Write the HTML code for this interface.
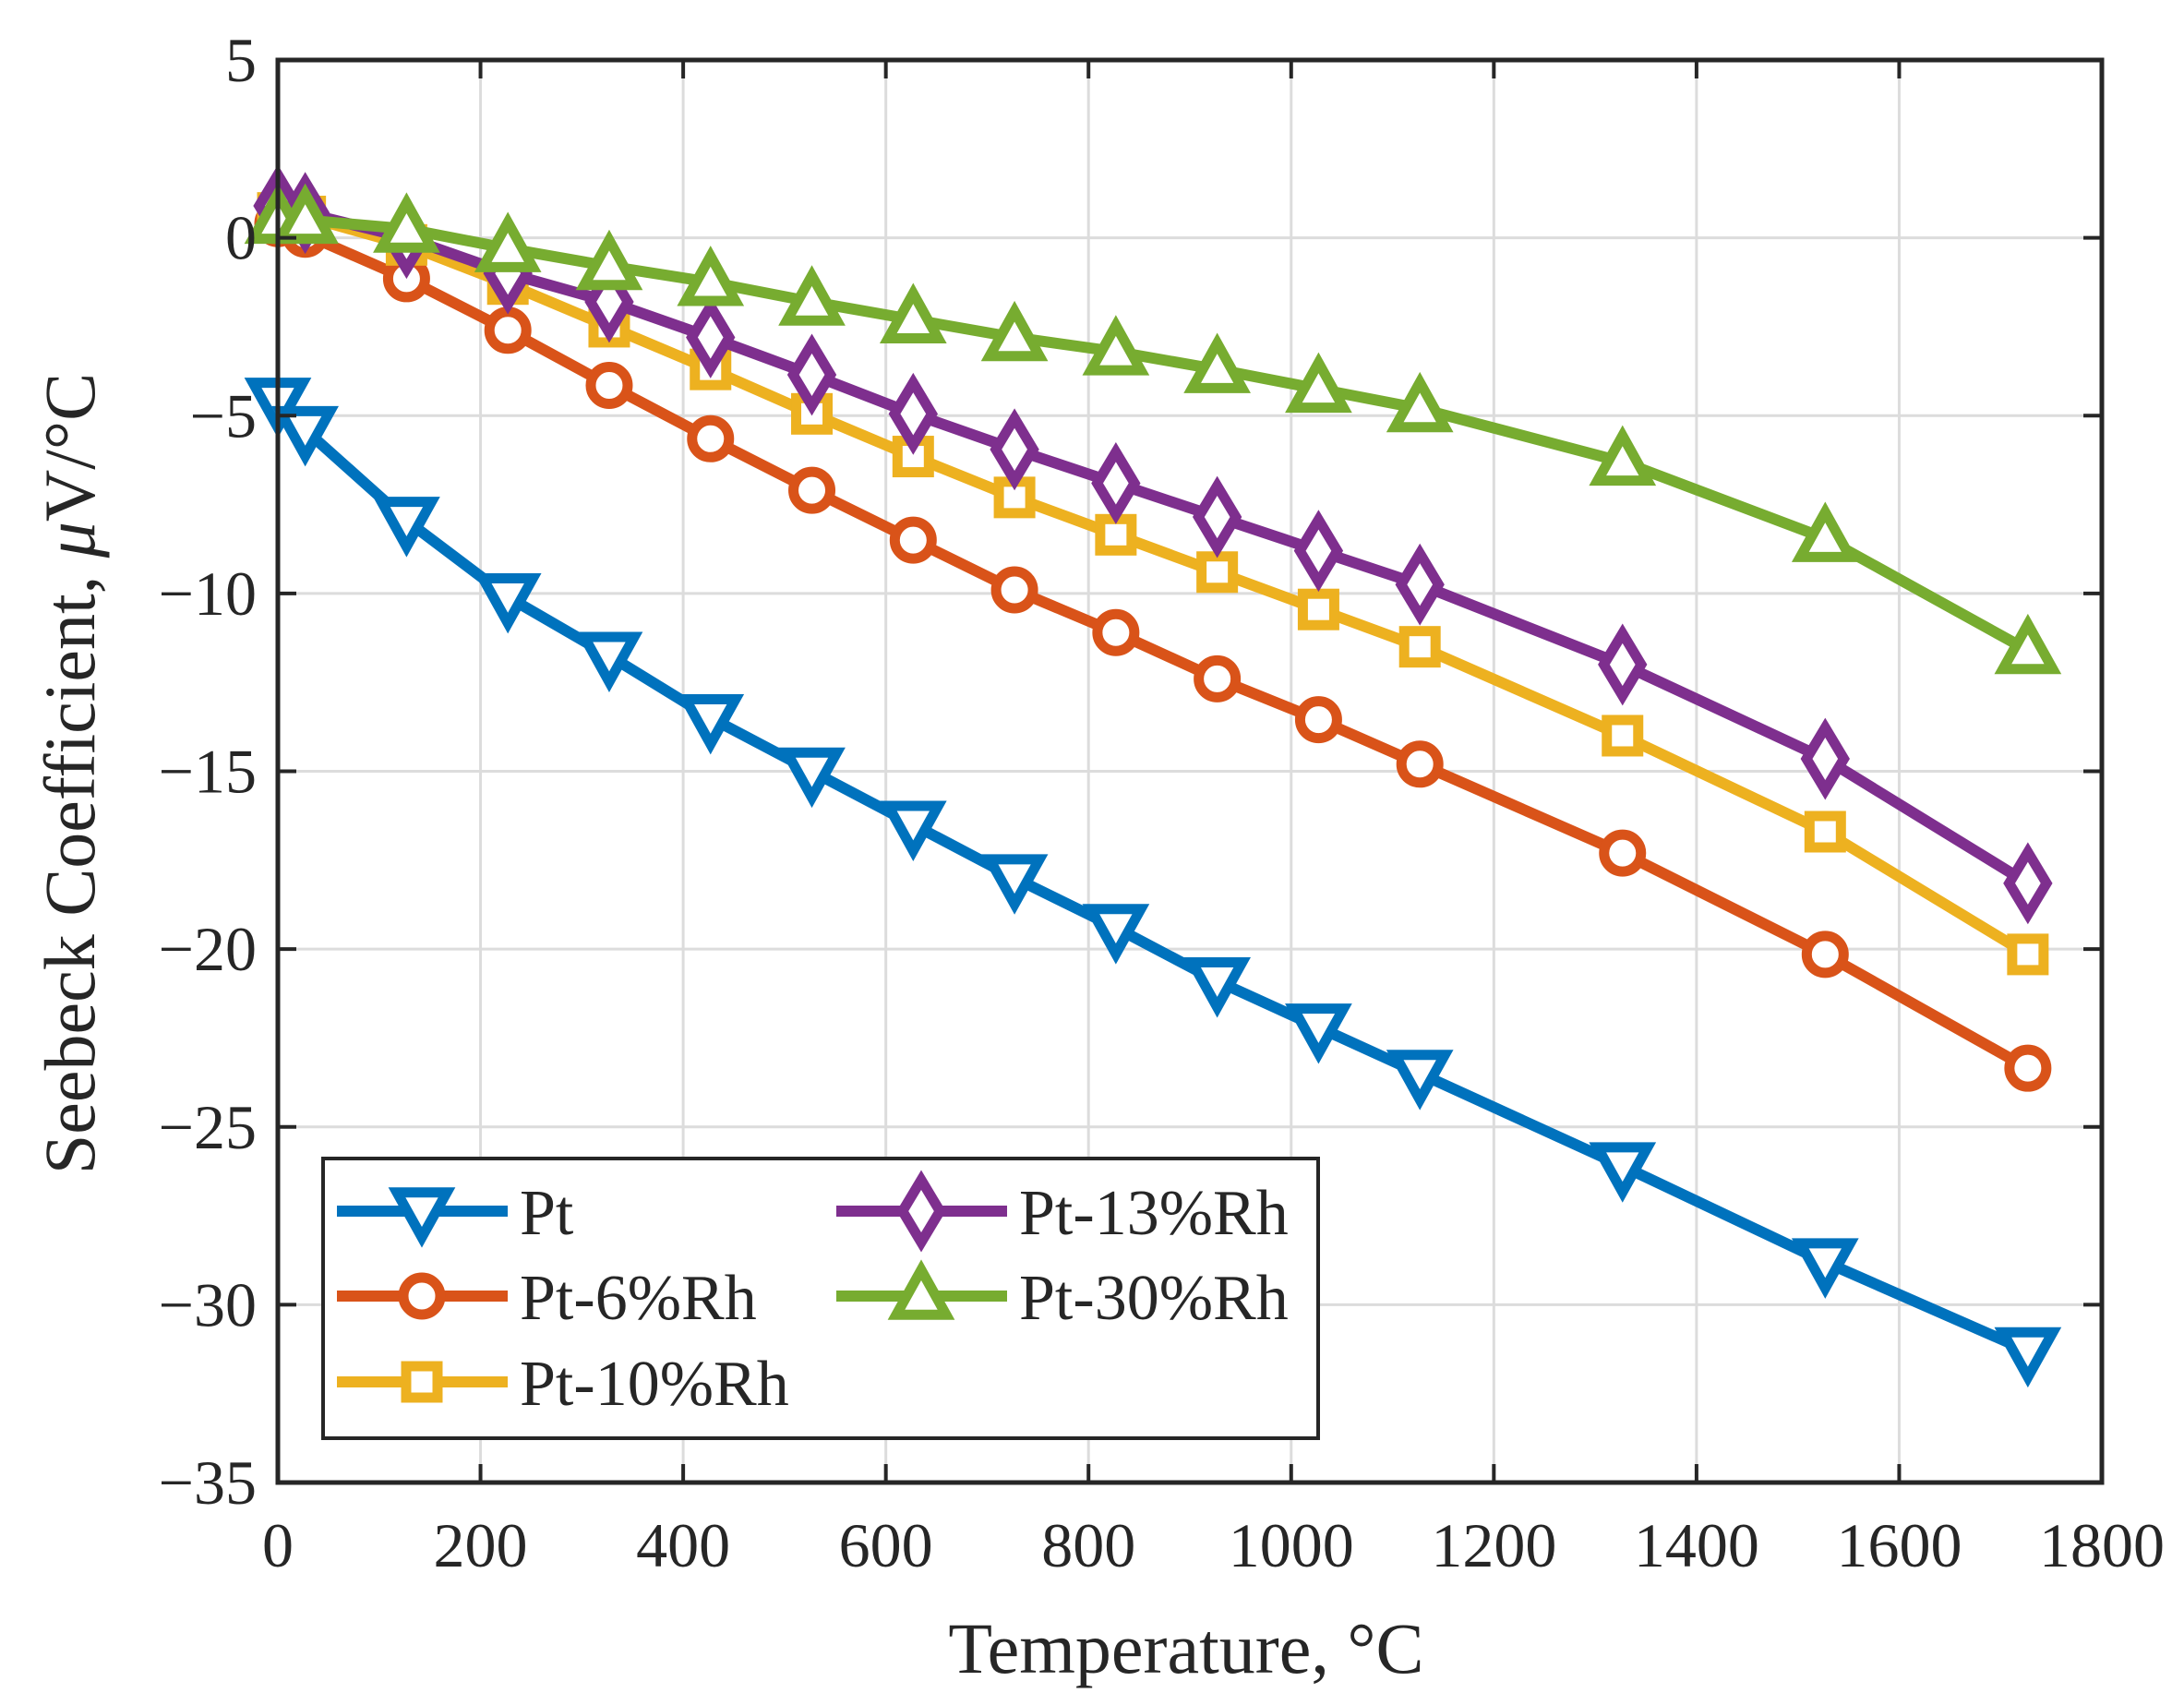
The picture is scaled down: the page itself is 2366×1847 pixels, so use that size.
<!DOCTYPE html>
<html><head><meta charset="utf-8"><style>
html,body{margin:0;padding:0;background:#fff;}
svg text{font-family:"Liberation Serif",serif;fill:#262626;}
</style></head><body>
<svg id="chart" width="2366" height="1842" viewBox="0 0 2366 1842" xmlns="http://www.w3.org/2000/svg">
<rect width="2366" height="1842" fill="#fff"/>
<g id="grid"></g>
<g id="series"></g>
<g id="axes"></g>
<g id="legend"></g>
</svg>
<script>
const temps = [0,27,127,227,327,427,527,627,727,827,927,1027,1127,1327,1527,1727];
const pt    = [-4.6,-5.4,-7.95,-10.1,-11.75,-13.5,-15.0,-16.5,-18.0,-19.4,-20.9,-22.2,-23.5,-26.1,-28.8,-31.3];
const pt6   = [0.4,0.1,-1.15,-2.6,-4.15,-5.65,-7.1,-8.5,-9.9,-11.1,-12.4,-13.55,-14.8,-17.3,-20.15,-23.35];
const pt10  = [0.7,0.6,-0.2,-1.3,-2.5,-3.7,-4.95,-6.15,-7.3,-8.35,-9.4,-10.45,-11.5,-14.0,-16.7,-20.15];
const pt13  = [0.9,0.7,0.0,-1.0,-1.8,-2.8,-3.85,-4.95,-5.95,-6.9,-7.85,-8.8,-9.75,-12.0,-14.65,-18.15];
const pt30  = [0.5,0.5,0.25,-0.3,-0.8,-1.25,-1.8,-2.3,-2.8,-3.2,-3.7,-4.25,-4.8,-6.3,-8.45,-11.6];
const xTicks = [0,200,400,600,800,1000,1200,1400,1600,1800];
const yTicks = [5,0,-5,-10,-15,-20,-25,-30,-35];
const seriesNames = ["Pt","Pt-6%Rh","Pt-10%Rh","Pt-13%Rh","Pt-30%Rh"];

const NS="http://www.w3.org/2000/svg";
const L=301,R=2277,T=65,B=1606;
const X=v=>L+(v-0)/(1800-0)*(R-L);
const Y=v=>T+(5-v)/(5-(-35))*(B-T);
function mk(tag,attrs,parent){const e=document.createElementNS(NS,tag);for(const k in attrs)e.setAttribute(k,attrs[k]);parent.appendChild(e);return e;}
const grid=document.getElementById('grid'),axes=document.getElementById('axes'),sg=document.getElementById('series'),lg=document.getElementById('legend');

xTicks.forEach(t=>{
  const g=mk('line',{x1:X(t),x2:X(t),y1:T,y2:B,stroke:'#dcdcdc','stroke-width':3},grid);
  
  
  const tk=mk('line',{x1:X(t),x2:X(t),y1:B,y2:B-20,stroke:'#262626','stroke-width':4},axes);
  
  
  const tk2=mk('line',{x1:X(t),x2:X(t),y1:T,y2:T+20,stroke:'#262626','stroke-width':4},axes);
  
  
  const tx=mk('text',{x:X(t),y:1697,'text-anchor':'middle','font-size':68},axes);
  tx.textContent=t;
  
  
});
yTicks.forEach(t=>{
  const g=mk('line',{x1:L,x2:R,y1:Y(t),y2:Y(t),stroke:'#dcdcdc','stroke-width':3},grid);
  
  
  const tk=mk('line',{x1:L,x2:L+20,y1:Y(t),y2:Y(t),stroke:'#262626','stroke-width':4},axes);
  
  
  const tk2=mk('line',{x1:R,x2:R-20,y1:Y(t),y2:Y(t),stroke:'#262626','stroke-width':4},axes);
  
  
  const tx=mk('text',{x:278,y:Y(t)+23,'text-anchor':'end','font-size':68},axes);
  tx.textContent=(t<0?'\u2212'+(-t):t);
  
  
});
const box=mk('rect',{x:L,y:T,width:R-L,height:B-T,fill:'none',stroke:'#262626','stroke-width':5},axes);


const xl=mk('text',{x:1285,y:1812,'text-anchor':'middle','font-size':78},axes);
xl.textContent='Temperature, \u00B0C';


const yl=mk('text',{x:0,y:0,'text-anchor':'middle','font-size':78,transform:'translate(102,838) rotate(-90)'},axes);
yl.innerHTML='Seebeck Coefficient, <tspan font-style="italic">\u03BC</tspan>V/\u00B0C';



function marker(type,cx,cy,color,parent){
  const s=27,sw=11;let e;
  if(type==='down') e=mk('polygon',{points:`${cx-s},${cy-s*0.75} ${cx+s},${cy-s*0.75} ${cx},${cy+s*1.05}`},parent);
  else if(type==='up') e=mk('polygon',{points:`${cx-s},${cy+s*0.75} ${cx+s},${cy+s*0.75} ${cx},${cy-s*1.05}`},parent);
  else if(type==='circle') e=mk('circle',{cx:cx,cy:cy,r:20},parent);
  else if(type==='square') e=mk('rect',{x:cx-17,y:cy-17,width:34,height:34},parent);
  else e=mk('polygon',{points:`${cx},${cy-s*1.25} ${cx+s*0.75},${cy} ${cx},${cy+s*1.25} ${cx-s*0.75},${cy}`},parent);
  e.setAttribute('fill','#fff');e.setAttribute('stroke',color);e.setAttribute('stroke-width',sw);
  return e;
}
const defs=[
  {vals:pt,color:'#0072BD',m:'down'},
  {vals:pt6,color:'#D95319',m:'circle'},
  {vals:pt10,color:'#EDB120',m:'square'},
  {vals:pt13,color:'#7E2F8E',m:'diamond'},
  {vals:pt30,color:'#77AC30',m:'up'}
];
defs.forEach((d,i)=>{
  const g=mk('g',{},sg);
  
  
  const pl=mk('polyline',{points:temps.map((t,j)=>X(t)+','+Y(d.vals[j])).join(' '),fill:'none',stroke:d.color,'stroke-width':12,'stroke-linejoin':'miter'},g);
  
  
  temps.forEach((t,j)=>{
    const m=marker(d.m,X(t),Y(d.vals[j]),d.color,g);
    
    
  });
});
// legend
const lb=mk('rect',{x:350,y:1255,width:1078,height:303,fill:'#fff',stroke:'#262626','stroke-width':4},lg);


const pos=[[365,1312],[365,1404],[365,1497],[906,1312],[906,1404]];
defs.forEach((d,i)=>{
  const [x,y]=pos[i];
  const g=mk('g',{},lg);
  
  
  mk('line',{x1:x,x2:x+185,y1:y,y2:y,stroke:d.color,'stroke-width':12},g);
  marker(d.m,x+92,y,d.color,g);
  const tx=mk('text',{x:x+198,y:y+25,'font-size':70},g);
  tx.textContent=seriesNames[i];
  
  
});
</script>
</body></html>
